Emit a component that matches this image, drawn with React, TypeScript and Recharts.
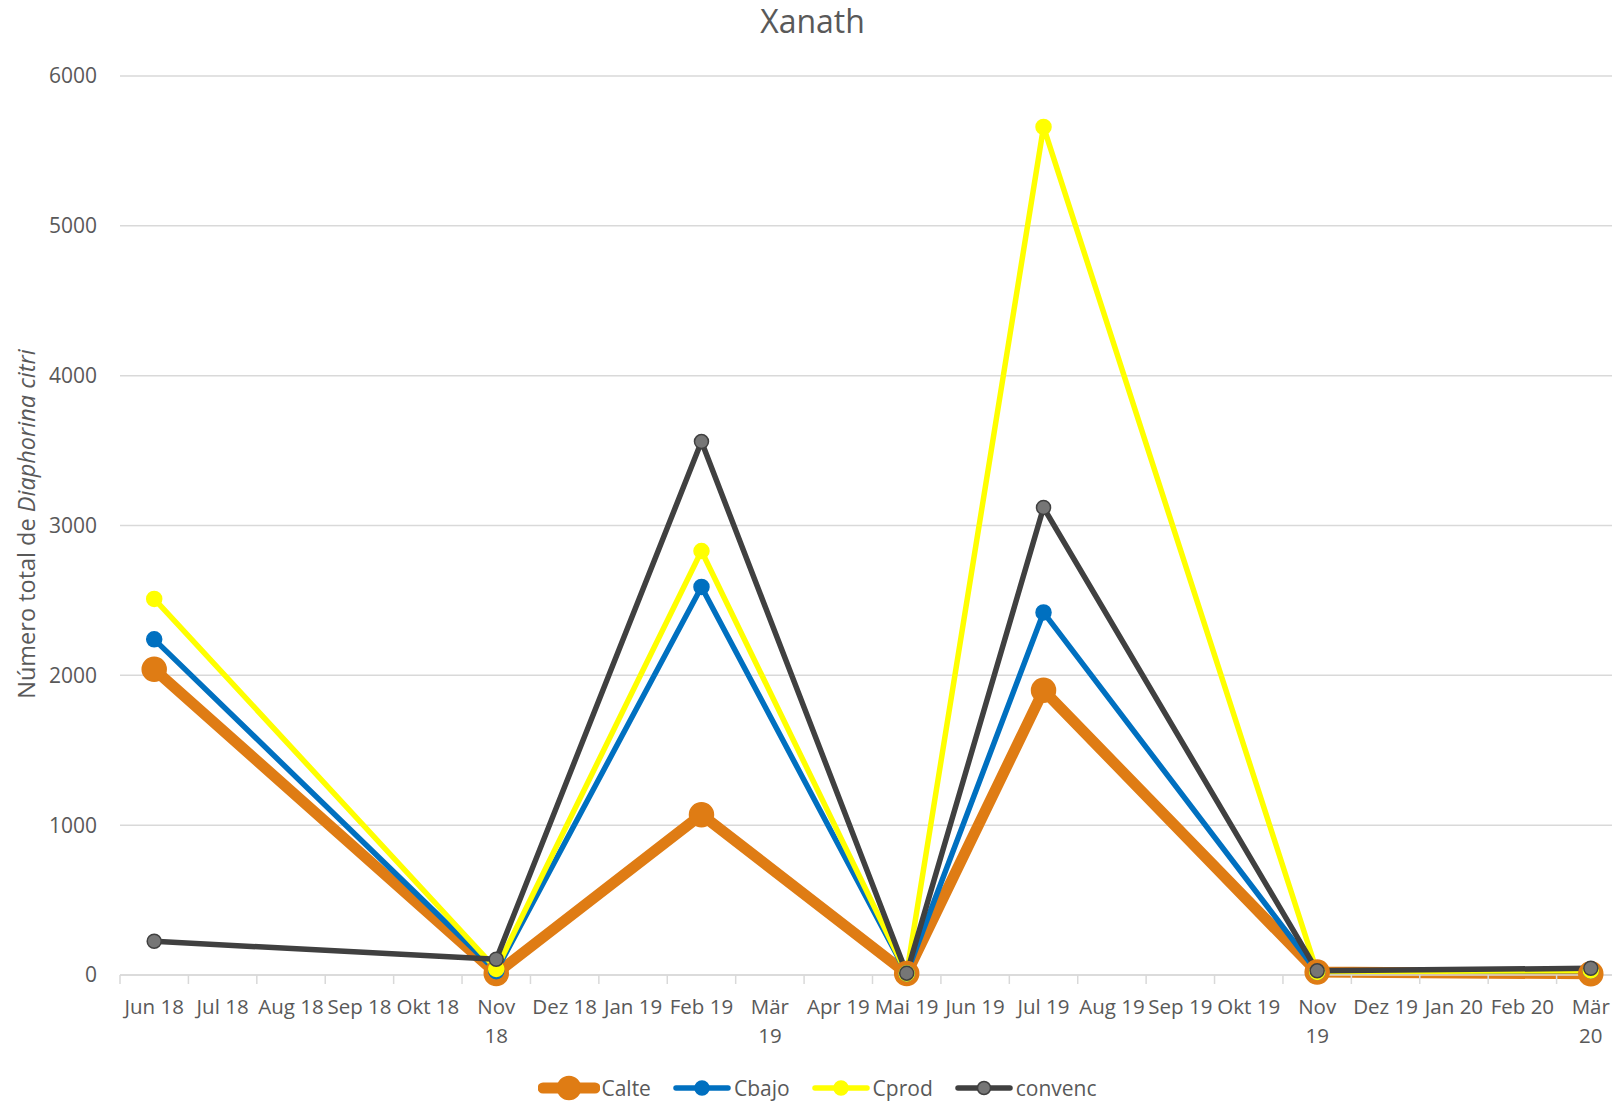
import React from "react"
import {
  LineChart,
  Line,
  XAxis,
  YAxis,
  CartesianGrid,
  Label,
} from "recharts"

const months = [
  "Jun 18", "Jul 18", "Aug 18", "Sep 18", "Okt 18", "Nov 18", "Dez 18",
  "Jan 19", "Feb 19", "Mär 19", "Apr 19", "Mai 19", "Jun 19", "Jul 19",
  "Aug 19", "Sep 19", "Okt 19", "Nov 19", "Dez 19", "Jan 20", "Feb 20", "Mär 20",
]
// labels Excel wrapped onto two lines
const wrapped = ["Nov 18", "Mär 19", "Nov 19", "Mär 20"]

const calte = [2040, null, null, null, null, 10, null, null, 1070, null, null, 10, null, 1900, null, null, null, 20, null, null, null, 8]
const cbajo = [2240, null, null, null, null, 25, null, null, 2590, null, null, 10, null, 2420, null, null, null, 20, null, null, null, 30]
const cprod = [2510, null, null, null, null, 40, null, null, 2830, null, null, 10, null, 5660, null, null, null, 20, null, null, null, 30]
const convenc = [225, null, null, null, null, 105, null, null, 3560, null, null, 12, null, 3120, null, null, null, 28, null, null, null, 45]

const yTicks = [0, 1000, 2000, 3000, 4000, 5000, 6000]

const series = [
  { key: "Calte", color: "#DF7C14", width: 11, r: 12, dotFill: "#DF7C14", dotStroke: "#DF7C14" },
  { key: "Cbajo", color: "#0070C0", width: 5.5, r: 7.5, dotFill: "#0070C0", dotStroke: "#0070C0" },
  { key: "Cprod", color: "#FFFF00", width: 5.5, r: 7.5, dotFill: "#FFFF00", dotStroke: "#FFFF00" },
  { key: "convenc", color: "#404040", width: 5.5, r: 7, dotFill: "#767676", dotStroke: "#404040" },
]

const data = months.map((month, i) => ({
  month,
  Calte: calte[i],
  Cbajo: cbajo[i],
  Cprod: cprod[i],
  convenc: convenc[i],
}))

const CHART_W = 1625
const Y_W = 120
const STEP = (CHART_W - Y_W) / months.length
const TEXT = "#595959"
const GRID = "#D9D9D9"
const FONT = "'Open Sans', sans-serif"

function MonthTick(props: any) {
  const { x, y, payload, index } = props
  const label: string = payload.value
  const lines = wrapped.includes(label) ? label.split(" ") : [label]
  const half = STEP / 2
  return (
    <g>
      <line x1={x - half} x2={x - half} y1={y} y2={y + 9} stroke={GRID} strokeWidth={1.5} />
      {index === months.length - 1 && (
        <line x1={x + half} x2={x + half} y1={y} y2={y + 9} stroke={GRID} strokeWidth={1.5} />
      )}
      {lines.map((t, i) => (
        <text key={i} x={x} y={y + 39 + i * 29} textAnchor="middle" fill={TEXT} fontSize={20.5} fontFamily={FONT}>
          {t}
        </text>
      ))}
    </g>
  )
}

function YTitle() {
  return (
    <text
      x={26}
      y={524}
      transform="rotate(-90, 26, 524)"
      textAnchor="middle"
      dominantBaseline="central"
      fill={TEXT}
      fontSize={23.5}
      fontFamily={FONT}
    >
      <tspan>Número total de </tspan>
      <tspan fontStyle="italic">Diaphorina citri</tspan>
    </text>
  )
}

function LegendIcon({ s }: { s: (typeof series)[number] }) {
  return (
    <svg width={62} height={26} style={{ display: "block" }}>
      <line x1={5} x2={57} y1={13} y2={13} stroke={s.color} strokeWidth={s.width} strokeLinecap="round" />
      <circle cx={31} cy={13} r={s.r - 0.5} fill={s.dotFill} stroke={s.dotStroke} strokeWidth={1.5} />
    </svg>
  )
}

export default function App() {
  return (
    <div style={{ position: "fixed", top: 0, left: 0, width: 1612, height: 1103, overflow: "hidden", background: "#fff" }}>
      <div
        style={{
          position: "absolute",
          top: 0,
          left: 0,
          width: CHART_W,
          textAlign: "center",
          fontFamily: FONT,
          fontSize: 32,
          color: TEXT,
          lineHeight: "42px",
        }}
      >
        Xanath
      </div>
      <div style={{ position: "absolute", top: 0, left: 0 }}>
        <LineChart
          width={CHART_W}
          height={1103}
          data={data}
          margin={{ top: 76, right: 0, bottom: 48, left: 0 }}
        >
          <CartesianGrid vertical={false} stroke={GRID} strokeWidth={1.5} />
          <XAxis
            dataKey="month"
            interval={0}
            height={80}
            padding={{ left: STEP / 2, right: STEP / 2 }}
            tickLine={false}
            tickSize={0}
            tickMargin={0}
            axisLine={{ stroke: GRID, strokeWidth: 1.5 }}
            tick={<MonthTick />}
          />
          <YAxis
            width={Y_W}
            domain={[0, 6000]}
            ticks={yTicks}
            axisLine={false}
            tickLine={false}
            tickSize={0}
            tickMargin={23}
            tick={{ fill: TEXT, fontSize: 21, fontFamily: FONT }}
          >
            <Label content={<YTitle />} />
          </YAxis>
          {series.map((s) => (
            <Line
              key={s.key}
              dataKey={s.key}
              stroke={s.color}
              strokeWidth={s.width}
              strokeLinejoin="round"
              connectNulls
              isAnimationActive={false}
              dot={{ r: s.r, fill: s.dotFill, stroke: s.dotStroke, strokeWidth: 1.5 }}
              activeDot={false}
            />
          ))}
        </LineChart>
      </div>
      <div
        style={{
          position: "absolute",
          top: 1075,
          left: 5,
          width: CHART_W,
          height: 26,
          display: "flex",
          justifyContent: "center",
          alignItems: "center",
          gap: 20,
          fontFamily: FONT,
          fontSize: 21,
          lineHeight: "26px",
          color: TEXT,
        }}
      >
        {series.map((s) => (
          <div key={s.key} style={{ display: "flex", alignItems: "center", gap: 1, height: 26 }}>
            <LegendIcon s={s} />
            <span>{s.key}</span>
          </div>
        ))}
      </div>
    </div>
  )
}
